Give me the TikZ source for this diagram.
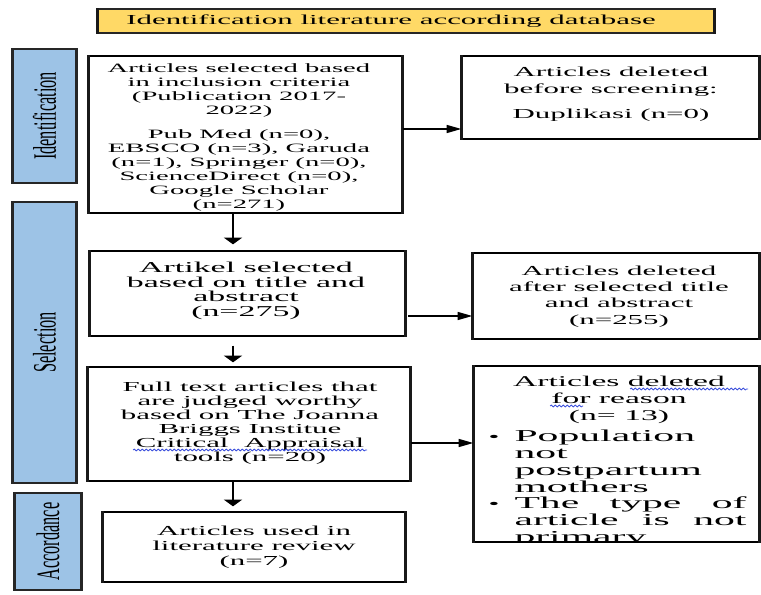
\documentclass[tikz,border=0pt]{standalone}
\usepackage{fontspec}
\setmainfont{Liberation Serif}
\newfontfamily\boxfont[FakeStretch=2.25]{Liberation Serif}
\newfontfamily\listfont[FakeStretch=2.5]{Liberation Serif}
\newfontfamily\barfont[FakeStretch=0.5]{Liberation Serif}
\usetikzlibrary{arrows.meta,decorations.pathmorphing}

\newcommand{\listbullet}{\makebox[19.5pt][l]{\boxfont\fontsize{10.3}{12.6}\selectfont\textbullet}}
\newcommand{\listindent}{\hspace*{19.5pt}}

\tikzset{every picture/.style={line width=0.75pt}}
\tikzset{
  thicksides/.style={append after command={(\tikzlastnode.north west) edge[draw={rgb, 255:red, 25; green, 25; blue, 25 }, line width=#1] (\tikzlastnode.south west) (\tikzlastnode.north east) edge[draw={rgb, 255:red, 25; green, 25; blue, 25 }, line width=#1] (\tikzlastnode.south east)}},
  thickends/.style={append after command={(\tikzlastnode.north west) edge[draw={rgb, 255:red, 38; green, 38; blue, 38 }, line width=#1] (\tikzlastnode.north east) (\tikzlastnode.south west) edge[draw={rgb, 255:red, 38; green, 38; blue, 38 }, line width=#1] (\tikzlastnode.south east)}},
  boxshape/.style={draw, line width=1pt, inner sep=0pt, thicksides=2pt},
  boxtext/.style={inner sep=0pt, align=center, anchor=north},
  titleshape/.style={draw={rgb, 255:red, 38; green, 38; blue, 38 }, line width=1.3pt, fill={rgb, 255:red, 255; green, 217; blue, 102 }, inner sep=0pt, thicksides=2.2pt},
  barshape/.style={draw={rgb, 255:red, 38; green, 38; blue, 38 }, line width=1.3pt, fill={rgb, 255:red, 157; green, 195; blue, 230 }, inner sep=0pt, rotate=90, font={\barfont\fontsize{24.5}{26}\selectfont}, thickends=2.2pt},
  harrow/.style={line width=1pt, -{Triangle[length=11pt,width=6pt]}},
  varrow/.style={line width=2pt, -{Triangle[length=5pt,width=13.5pt]}},
  spellwave/.style={draw={rgb, 255:red, 60; green, 80; blue, 220 }, line width=0.6pt, decorate, decoration={snake, segment length=3pt, amplitude=0.7pt}}
}

\begin{document}
\begin{tikzpicture}[x=0.75pt,y=0.75pt,yscale=-1,xscale=1]
\useasboundingbox (0,0) rectangle (761,595);

%Shape: Rectangle (title)
\node [titleshape, minimum width=462pt, minimum height=18pt] (head) at (406,21) {};
% Text Node
\node [anchor=base, inner sep=0pt, font={\boxfont\fontsize{10.3}{12}\selectfont}] (headt) at (391,25) {Identification literature according database};

%Shape: Rectangle (stages)
\node [barshape, minimum width=100.5pt, minimum height=47.25pt] (ident) at (44.5,116) {Identification};
\node [barshape, minimum width=210.75pt, minimum height=47.25pt] (select) at (44.5,342.5) {Selection};
\node [barshape, minimum width=72.75pt, minimum height=49.5pt] (accord) at (48,541.5) {Accordance};

%Shape: Rectangle
\node [boxshape, minimum width=234.75pt, minimum height=117.75pt] (sel1) at (245.5,134.5) {};
% Text Node
\node [boxtext, font={\boxfont\fontsize{9.55}{10.5}\selectfont}] (sel1t) at (239,63.5) {Articles selected based\\ in inclusion criteria\\ (Publication 2017-\\ 2022)\\[7.5pt] Pub Med (n=0),\\ EBSCO (n=3), Garuda\\ (n=1), Springer (n=0),\\ ScienceDirect (n=0),\\ Google Scholar\\ (n=271)};

%Shape: Rectangle
\node [boxshape, minimum width=222.75pt, minimum height=62.25pt] (del1) at (610.5,97.5) {};
% Text Node
\node [boxtext, font={\boxfont\fontsize{10.3}{12.5}\selectfont}] (del1t) at (611,66.6) {Articles deleted\\ before screening:\\[6.5pt] Duplikasi (n=0)};

%Shape: Rectangle
\node [boxshape, minimum width=236.25pt, minimum height=63.75pt] (sel2) at (247.5,293.5) {};
% Text Node
\node [boxtext, font={\boxfont\fontsize{11.3}{11}\selectfont}] (sel2t) at (246,261.7) {Artikel selected\\ based on title and\\ abstract\\ (n=275)};

%Shape: Rectangle
\node [boxshape, minimum width=214.5pt, minimum height=64.5pt] (del2) at (616,296) {};
% Text Node
\node [boxtext, font={\boxfont\fontsize{10.3}{12.1}\selectfont}] (del2t) at (619,265.6) {Articles deleted\\ after selected title\\ and abstract\\ (n=255)};

%Shape: Rectangle
\node [boxshape, minimum width=241.5pt, minimum height=85.5pt] (sel3) at (249,424) {};
% Text Node
\node [boxtext, font={\boxfont\fontsize{10.3}{10.5}\selectfont}] (sel3t) at (250,381.6) {Full text articles that\\ are judged worthy\\ based on The Joanna\\ Briggs Institue\\ Critical\ \ Appraisal\\ tools (n=20)};

%Shape: Rectangle
\node [boxshape, minimum width=213.75pt, minimum height=132pt] (del3) at (616.5,454) {};
% Text Node
\node [boxtext, font={\boxfont\fontsize{11.2}{12.75}\selectfont}] (del3t) at (619,375.8) {Articles deleted\\ for reason\\ (n= 13)};
\begin{scope}
\clip (del3.south west) rectangle (del3.north east);
% Text Node
\node [anchor=north west, inner sep=0pt, align=left, font={\listfont\fontsize{12.5}{12.6}\selectfont}] (del3l) at (488,429.6) {\listbullet Population\\ \listindent not\\ \listindent postpartum\\ \listindent mothers\\ \listbullet\makebox[174pt][s]{The type of}\\ \listindent\makebox[174pt][s]{article is not}\\ \listindent primary};
\end{scope}

%Shape: Rectangle
\node [boxshape, minimum width=226.5pt, minimum height=52.5pt] (used) at (254,547) {};
% Text Node
\node [boxtext, font={\boxfont\fontsize{10.3}{11.25}\selectfont}] (usedt) at (254,525.6) {Articles used in\\ literature review\\ (n=7)};

%Straight Lines
\coordinate (spine) at (233,0);
\coordinate (row1) at (0,129);
\coordinate (row2) at (0,316);
\coordinate (row3) at (0,443);
\draw [varrow, shorten >=4.5pt] (sel1.south -| spine) -- (sel2.north -| spine);
\draw [varrow, shorten <=6.75pt, shorten >=3pt] (sel2.south -| spine) -- (sel3.north -| spine);
\draw [varrow, shorten >=3.75pt] (sel3.south -| spine) -- (used.north -| spine);
\draw [harrow] (sel1.east |- row1) -- (del1.west |- row1);
\draw [harrow, shorten <=2pt] (sel2.east |- row2) -- (del2.west |- row2);
\draw [harrow] (sel3.east |- row3) -- (del3.west |- row3);

%Spelling marks
\draw [spellwave] (133,450) -- (367,450);
\draw [spellwave] (630,389) -- (748,389);
\draw [spellwave] (550,406) -- (583,406);

\end{tikzpicture}
\end{document}
